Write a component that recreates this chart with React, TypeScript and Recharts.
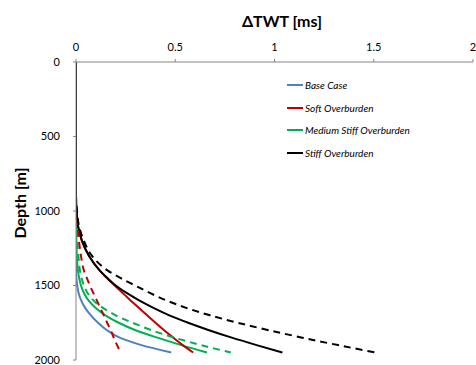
import React from 'react';
import { LineChart, Line, XAxis, YAxis, Legend } from 'recharts';

const depths = [0, 500, 900, 1000, 1100, 1200, 1300, 1400, 1450, 1500, 1550, 1600, 1650, 1700, 1750, 1800, 1850, 1900, 1950];
const baseCase = [0, 0, 0, 0, 0, 0, 0, 0, 0.002, 0.006, 0.013, 0.026, 0.046, 0.075, 0.111, 0.156, 0.22, 0.33, 0.48];
const softSolid = [0, 0, 0, 0.003, 0.01, 0.03, 0.065, 0.12, 0.155, 0.195, 0.235, 0.275, 0.316, 0.358, 0.4, 0.444, 0.49, 0.538, 0.59];
const softDashed = [0, 0, 0, 0.002, 0.008, 0.015, 0.025, 0.04, 0.055, 0.07, 0.087, 0.105, 0.122, 0.14, 0.157, 0.175, 0.19, 0.207, 0.225];
const mediumSolid = [0, 0, 0, 0, 0.001, 0.002, 0.004, 0.01, 0.016, 0.025, 0.04, 0.063, 0.098, 0.148, 0.215, 0.3, 0.41, 0.53, 0.66];
const mediumDashed = [0, 0, 0, 0, 0.002, 0.006, 0.012, 0.02, 0.028, 0.04, 0.058, 0.088, 0.135, 0.2, 0.285, 0.38, 0.495, 0.63, 0.78];
const stiffSolid = [0, 0, 0, 0.003, 0.01, 0.03, 0.065, 0.12, 0.158, 0.2, 0.255, 0.318, 0.39, 0.47, 0.565, 0.67, 0.785, 0.91, 1.04];
const stiffDashed = [0, 0, 0, 0.005, 0.015, 0.04, 0.08, 0.16, 0.225, 0.298, 0.372, 0.455, 0.555, 0.675, 0.815, 0.97, 1.14, 1.32, 1.51];

const xTicks = [0, 0.5, 1, 1.5, 2];
const yTicks = [0, 500, 1000, 1500, 2000];

const legendItems = [
  { name: 'Base Case', color: '#4F81BD' },
  { name: 'Soft Overburden', color: '#C00000' },
  { name: 'Medium Stiff Overburden', color: '#00B050' },
  { name: 'Stiff Overburden', color: '#000000' },
];

const data = depths.map((d, i) => ({
  depth: d,
  base: baseCase[i],
  soft: softSolid[i],
  softD: softDashed[i],
  medium: mediumSolid[i],
  mediumD: mediumDashed[i],
  stiff: stiffSolid[i],
  stiffD: stiffDashed[i],
}));

const FONT = "Lato, 'Open Sans', sans-serif";
const AXIS = '#868686';

const renderLegend = () => (
  <div style={{ fontFamily: FONT, fontStyle: 'italic', fontSize: 10, color: '#000' }}>
    {legendItems.map((it) => (
      <div key={it.name} style={{ display: 'flex', alignItems: 'center', height: 22.5 }}>
        <div style={{ width: 16, height: 2, background: it.color, marginRight: 2 }} />
        <span>{it.name}</span>
      </div>
    ))}
  </div>
);

export default function App() {
  return (
    <div style={{ position: 'absolute', left: 0, top: 0, width: 476, height: 365, background: '#fff' }}>
      <LineChart
        width={476}
        height={365}
        data={data}
        layout="vertical"
        margin={{ top: 32, right: 3, bottom: 5, left: 0 }}
      >
        <XAxis
          type="number"
          orientation="top"
          domain={[0, 2]}
          ticks={xTicks}
          interval={0}
          allowDataOverflow
          height={30}
          axisLine={{ stroke: AXIS }}
          tickLine={{ stroke: AXIS }}
          tickSize={3}
          tickMargin={8}
          tick={{ fill: '#000', fontSize: 11, fontFamily: FONT }}
          label={{
            content: () => (
              <text x={282} y={20} textAnchor="middle" dominantBaseline="central" fontFamily={FONT} fontWeight="bold" fontSize={16} fill="#000">
                ΔTWT [ms]
              </text>
            ),
          }}
        />
        <YAxis
          type="number"
          dataKey="depth"
          domain={[0, 2000]}
          ticks={yTicks}
          interval={0}
          allowDataOverflow
          width={76}
          axisLine={{ stroke: AXIS }}
          tickLine={{ stroke: AXIS }}
          tickSize={3}
          tickMargin={13}
          tick={{ fill: '#000', fontSize: 11, fontFamily: FONT }}
          label={{
            content: () => (
              <text x={19} y={203} transform="rotate(-90 19 203)" textAnchor="middle" dominantBaseline="central" fontFamily={FONT} fontWeight="bold" fontSize={16} fill="#000">
                Depth [m]
              </text>
            ),
          }}
        />
        <Legend
          layout="vertical"
          align="center"
          verticalAlign="middle"
          wrapperStyle={{ left: 287, top: 74, width: 190 }}
          content={renderLegend}
        />
        <Line dataKey="base" type="monotone" stroke="#4F81BD" strokeWidth={2} dot={false} isAnimationActive={false} />
        <Line dataKey="medium" type="monotone" stroke="#00B050" strokeWidth={2} dot={false} isAnimationActive={false} />
        <Line dataKey="soft" type="monotone" stroke="#C00000" strokeWidth={2} dot={false} isAnimationActive={false} />
        <Line dataKey="stiff" type="monotone" stroke="#000000" strokeWidth={2} dot={false} isAnimationActive={false} />
        <Line dataKey="mediumD" type="monotone" stroke="#00B050" strokeWidth={2} strokeDasharray="7 5" dot={false} isAnimationActive={false} />
        <Line dataKey="softD" type="monotone" stroke="#C00000" strokeWidth={2} strokeDasharray="7 5" dot={false} isAnimationActive={false} />
        <Line dataKey="stiffD" type="monotone" stroke="#000000" strokeWidth={2} strokeDasharray="7 5" dot={false} isAnimationActive={false} />
      </LineChart>
    </div>
  );
}
